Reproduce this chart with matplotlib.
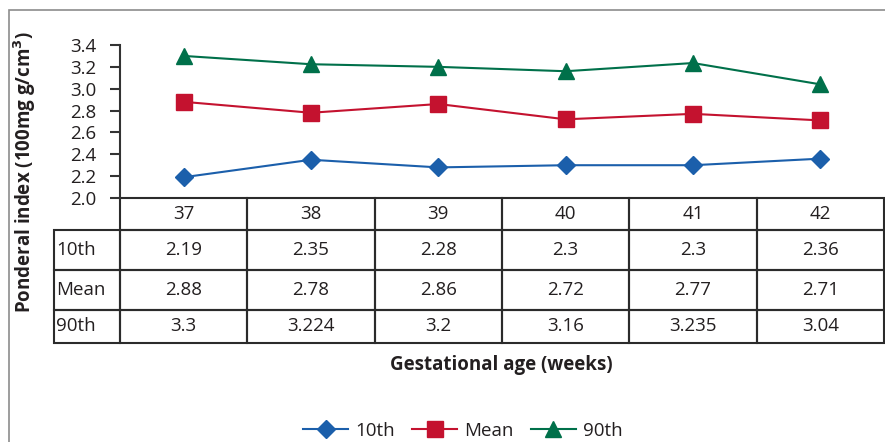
import matplotlib
matplotlib.use("Agg")
import matplotlib.pyplot as plt
from matplotlib.patches import Rectangle

plt.rcParams['font.family'] = ['Open Sans', 'DejaVu Sans']

weeks = ['37', '38', '39', '40', '41', '42']
p10 = [2.19, 2.35, 2.28, 2.3, 2.3, 2.36]
mean = [2.88, 2.78, 2.86, 2.72, 2.77, 2.71]
p90 = [3.3, 3.224, 3.2, 3.16, 3.235, 3.04]
p10_txt = ['2.19', '2.35', '2.28', '2.3', '2.3', '2.36']
mean_txt = ['2.88', '2.78', '2.86', '2.72', '2.77', '2.71']
p90_txt = ['3.3', '3.224', '3.2', '3.16', '3.235', '3.04']
series_names = ['10th', 'Mean', '90th']
yticks = [2.0, 2.2, 2.4, 2.6, 2.8, 3.0, 3.2, 3.4]

W, H = 885, 442
fig = plt.figure(figsize=(W / 100, H / 100), dpi=100)
TXT = '#231f20'
FS = 13.5

# outer frame
fig.patches.append(Rectangle((9 / W, -0.2), 2.0, 1 - 10 / H + 0.2, transform=fig.transFigure,
                             fill=False, edgecolor='#8c8c8c', linewidth=1.2))

left, right = 120 / W, 884 / W
top, bottom = 1 - 45 / H, 1 - 198 / H
ax = fig.add_axes([left, bottom, right - left, top - bottom])
ax.patch.set_alpha(0)

x = list(range(len(weeks)))
ax.plot(x, p10, color='#1b5fab', marker='D', markersize=9, linewidth=1.5, label=series_names[0])
ax.plot(x, mean, color='#c4122f', marker='s', markersize=12, linewidth=1.5, label=series_names[1])
ax.plot(x, p90, color='#00704a', marker='^', markersize=12, linewidth=1.5, label=series_names[2])

ax.set_xlim(-0.5, len(weeks) - 0.5)
ax.set_ylim(2.0, 3.4)
ax.set_yticks(yticks)
ax.set_yticklabels([f'{v:.1f}' for v in yticks], fontsize=FS, color=TXT)
ax.set_xticks([])
for s in ['top', 'right', 'bottom']:
    ax.spines[s].set_visible(False)
ax.spines['left'].set_color('#333333')
ax.spines['left'].set_linewidth(1.5)
ax.tick_params(axis='y', length=7, width=1.5, color='#333333', pad=10)

# data table (first column holds the series names)
axw = 884 - 120
axh = 198 - 45
tab_left = (54 - 120) / axw
tab_bot = -(343 - 198) / axh
cell_text = [[''] + weeks,
             [series_names[0]] + p10_txt,
             [series_names[1]] + mean_txt,
             [series_names[2]] + p90_txt]
tbl = ax.table(cellText=cell_text, cellLoc='center',
               bbox=[tab_left, tab_bot, 1 - tab_left, -tab_bot])
tbl.auto_set_font_size(False)
tbl.set_fontsize(FS)
row_h = {0: 32, 1: 40, 2: 40, 3: 33}
for (r, c), cell in tbl.get_celld().items():
    cell.set_edgecolor('#2b2b2b')
    cell.set_linewidth(1.5)
    cell.set_facecolor('none')
    cell.get_text().set_color(TXT)
    cell.set_height(row_h[r])
    if c == 0:
        cell.set_width(66)
        cell._loc = 'left'
        cell.get_text().set_ha('left')
        cell.PAD = 0.03
        if r == 0:
            cell.visible_edges = ''
    else:
        cell.set_width(127.3)

fig.text(25 / W, 1 - 172 / H, 'Ponderal index (100mg g/cm$^\\mathbf{3}$)', rotation=90,
         ha='center', va='center', fontsize=FS, fontweight='bold', color=TXT)
fig.text(501 / W, 1 - 365 / H, 'Gestational age (weeks)', ha='center', va='center',
         fontsize=FS, fontweight='bold', color=TXT)

fig.legend(loc='center', bbox_to_anchor=(463 / W, 1 - 431 / H), ncol=3, frameon=False,
           fontsize=FS, handlelength=2.4, columnspacing=0.9, handletextpad=0.4,
           labelcolor=TXT)

fig.savefig('out.png', dpi=100)
